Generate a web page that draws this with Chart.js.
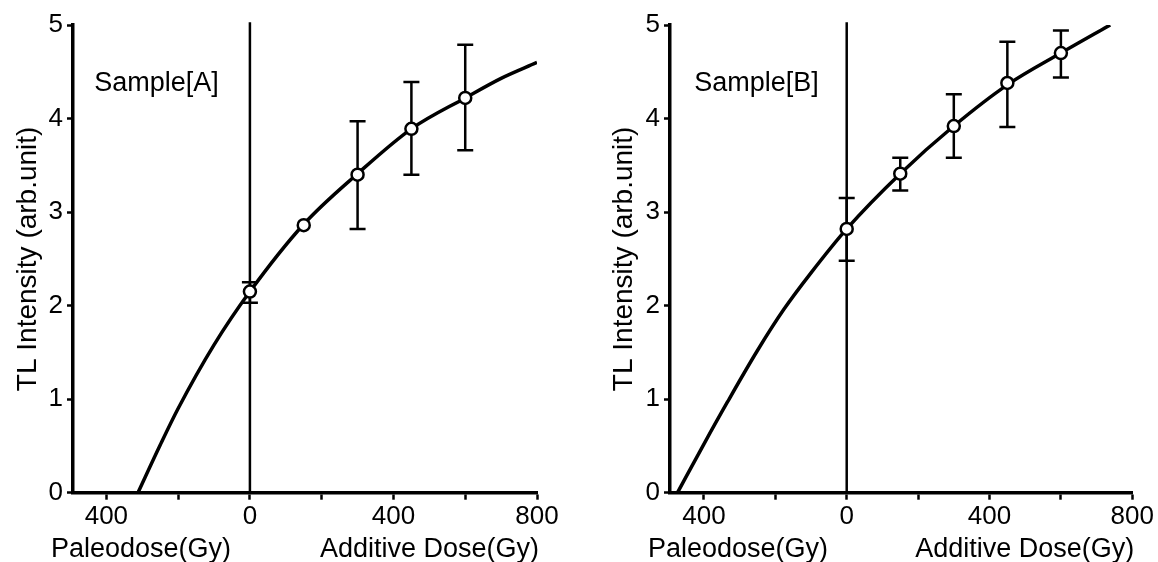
<!DOCTYPE html>
<html>
<head>
<meta charset="utf-8">
<script src="https://cdn.jsdelivr.net/npm/chart.js@4.4.1/dist/chart.umd.min.js"></script>
<style>
  body { margin: 0; background: #fff; }
  .box { position: absolute; top: 0; width: 579px; height: 562px; }
</style>
</head>
<body>
<div class="box" style="left:0"><canvas id="chartA"></canvas></div>
<div class="box" style="left:579px"><canvas id="chartB"></canvas></div>
<script>
// shared axis ticks
const xTicks = [-400, -200, 0, 200, 400, 600, 800];
const xTickLabels = ['400', '', '0', '', '400', '', '800'];
const yTicks = [0, 1, 2, 3, 4, 5];

// Sample A
const doseA = [0, 150, 300, 450, 600];
const tlA = [2.15, 2.86, 3.40, 3.89, 4.22];
const errLowA = [2.03, 2.86, 2.82, 3.40, 3.66];
const errHighA = [2.25, 2.86, 3.97, 4.39, 4.79];
const fitXA = [-312, -250, -200, -100, 0, 150, 300, 450, 600, 700, 800];
const fitYA = [0, 0.51, 0.90, 1.58, 2.15, 2.87, 3.41, 3.89, 4.22, 4.43, 4.60];

// Sample B
const doseB = [0, 150, 300, 450, 600];
const tlB = [2.82, 3.41, 3.92, 4.38, 4.70];
const errLowB = [2.48, 3.23, 3.58, 3.91, 4.44];
const errHighB = [3.15, 3.58, 4.26, 4.82, 4.94];
const fitXB = [-474, -400, -334, -250, -176, -100, 0, 150, 300, 450, 600, 738];
const fitYB = [0, 0.52, 0.97, 1.52, 1.96, 2.35, 2.82, 3.41, 3.92, 4.36, 4.70, 5.0];

const FONT = "'Liberation Sans', Arial, sans-serif";

const decor = {
  id: 'decor',
  beforeDatasetsDraw(chart, args, opts) {
    const ctx = chart.ctx, x = chart.scales.x, y = chart.scales.y;
    ctx.save();
    ctx.strokeStyle = '#000';
    ctx.lineWidth = 2.5;
    opts.dose.forEach((d, i) => {
      if (opts.lo[i] === opts.hi[i]) return;
      const px = x.getPixelForValue(d);
      const y1 = y.getPixelForValue(opts.lo[i]);
      const y2 = y.getPixelForValue(opts.hi[i]);
      ctx.beginPath();
      ctx.moveTo(px, y1); ctx.lineTo(px, y2);
      ctx.moveTo(px - 8, y1); ctx.lineTo(px + 8, y1);
      ctx.moveTo(px - 8, y2); ctx.lineTo(px + 8, y2);
      ctx.stroke();
    });
    ctx.restore();
  },
  afterDraw(chart, args, opts) {
    const ctx = chart.ctx, area = chart.chartArea;
    ctx.save();
    ctx.fillStyle = '#000';
    ctx.font = '27px ' + FONT;
    ctx.textBaseline = 'middle';
    ctx.textAlign = 'left';
    ctx.fillText(opts.label, chart.scales.x.getPixelForValue(opts.labelAt[0]),
                 chart.scales.y.getPixelForValue(opts.labelAt[1]));
    ctx.fillText('Paleodose(Gy)', area.left - 22, 550);
    ctx.textAlign = 'right';
    ctx.fillText('Additive Dose(Gy)', area.right + 2, 550);
    ctx.restore();
  }
};

function makeChart(id, o) {
  return new Chart(document.getElementById(id), {
    type: 'scatter',
    data: {
      datasets: [{
        data: o.dose.map((d, i) => ({x: d, y: o.tl[i]})),
        pointRadius: 6,
        pointBackgroundColor: '#fff',
        pointBorderColor: '#000',
        pointBorderWidth: 2.5
      }, {
        data: o.fitX.map((d, i) => ({x: d, y: o.fitY[i]})),
        showLine: true,
        borderColor: '#000',
        borderWidth: 3.5,
        pointRadius: 0,
        cubicInterpolationMode: 'monotone'
      }, {
        data: [{x: 0, y: 0}, {x: 0, y: 5.03}],
        showLine: true,
        borderColor: '#000',
        borderWidth: 2.5,
        pointRadius: 0,
        clip: false
      }]
    },
    options: {
      responsive: true,
      maintainAspectRatio: false,
      animation: false,
      layout: { padding: { top: 25, right: o.padRight, left: 0, bottom: 0 } },
      plugins: {
        legend: { display: false },
        tooltip: { enabled: false },
        decor: { dose: o.dose, lo: o.lo, hi: o.hi, label: o.label, labelAt: o.labelAt }
      },
      scales: {
        x: {
          type: 'linear',
          min: o.xMin, max: 800,
          afterBuildTicks: s => { s.ticks = xTicks.map(v => ({value: v})); },
          afterFit: s => { s.height = 69.3; },
          border: { display: true, color: '#000', width: 3.5 },
          grid: { drawOnChartArea: false, drawTicks: true, tickLength: 7, tickWidth: 2.5, tickColor: '#000' },
          ticks: {
            color: '#000', padding: 2, maxRotation: 0, autoSkip: false,
            font: { family: FONT, size: 26 },
            callback: v => xTickLabels[xTicks.indexOf(v)]
          }
        },
        y: {
          min: 0, max: 5,
          afterBuildTicks: s => { s.ticks = yTicks.map(v => ({value: v})); },
          afterFit: s => { s.width = o.yWidth; },
          border: { display: true, color: '#000', width: 3.5 },
          grid: { drawOnChartArea: false, drawTicks: true, tickLength: 6, tickWidth: 2.5, tickColor: '#000' },
          ticks: { color: '#000', padding: 4, font: { family: FONT, size: 26 } },
          title: {
            display: true, text: 'TL Intensity (arb.unit)', color: '#000',
            font: { family: FONT, size: 28 }, padding: { top: o.titlePad, bottom: 0 }
          }
        }
      }
    },
    plugins: [decor]
  });
}

makeChart('chartA', {
  dose: doseA, tl: tlA, lo: errLowA, hi: errHighA, fitX: fitXA, fitY: fitYA,
  label: 'Sample[A]', labelAt: [-434, 4.37], xMin: -493, yWidth: 73, padRight: 42, titlePad: 11
});
makeChart('chartB', {
  dose: doseB, tl: tlB, lo: errLowB, hi: errHighB, fitX: fitXB, fitY: fitYB,
  label: 'Sample[B]', labelAt: [-427, 4.37], xMin: -495, yWidth: 91, padRight: 25.7, titlePad: 28
});
</script>
</body>
</html>
